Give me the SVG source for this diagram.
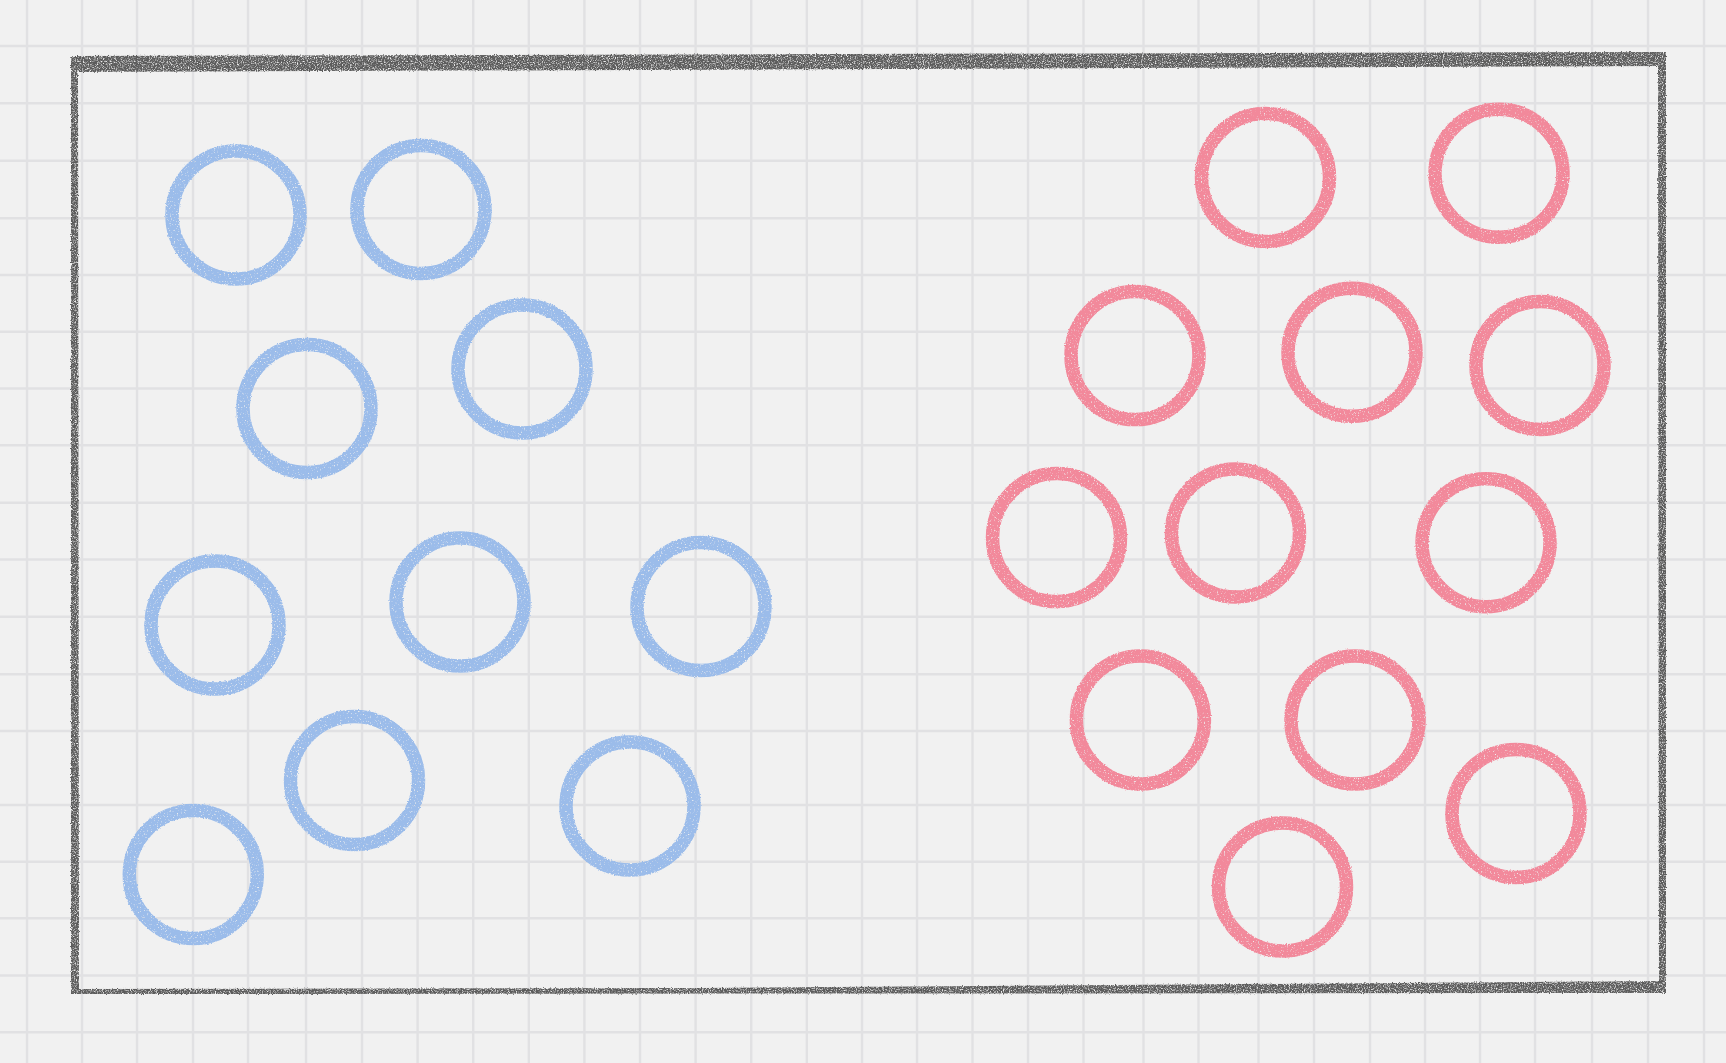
<svg xmlns="http://www.w3.org/2000/svg" width="1726" height="1063" viewBox="0 0 1726 1063">
  <defs>
    <filter id="rough" x="-10%" y="-10%" width="120%" height="120%">
      <feTurbulence type="fractalNoise" baseFrequency="0.85" numOctaves="2" seed="4" result="n"/>
      <feDisplacementMap in="SourceGraphic" in2="n" scale="3" xChannelSelector="R" yChannelSelector="G" result="d"/>
      <feColorMatrix in="n" type="matrix" values="0 0 0 0 0  0 0 0 0 0  0 0 0 0 0  0 0 0 -3 2.4" result="mask"/>
      <feComposite in="d" in2="mask" operator="in"/>
    </filter>
    <filter id="chalk" x="-10%" y="-10%" width="120%" height="120%">
      <feTurbulence type="fractalNoise" baseFrequency="0.7" numOctaves="2" seed="9" result="n"/>
      <feDisplacementMap in="SourceGraphic" in2="n" scale="2.5" xChannelSelector="R" yChannelSelector="G" result="d"/>
      <feColorMatrix in="n" type="matrix" values="0 0 0 0 0  0 0 0 0 0  0 0 0 0 0  0 0 0 -4 3.4" result="mask"/>
      <feComposite in="d" in2="mask" operator="in"/>
    </filter>
    <style>
      .grid line { stroke: #e1e1e3; stroke-width: 2.4; }
      .frame { fill: #5c5c5c; }
      .blue { fill: none; stroke: #9bbcea; stroke-width: 13.5; }
      .pink { fill: none; stroke: #f2899b; stroke-width: 13.5; }
    </style>
  </defs>
  <rect x="0" y="0" width="1726" height="1063" fill="#f1f1f1"/>
  <g class="grid" id="grid">
    <line x1="27" y1="0" x2="27" y2="1063"/>
    <line x1="82" y1="0" x2="82" y2="1063"/>
    <line x1="137" y1="0" x2="137" y2="1063"/>
    <line x1="193" y1="0" x2="193" y2="1063"/>
    <line x1="248" y1="0" x2="248" y2="1063"/>
    <line x1="306" y1="0" x2="306" y2="1063"/>
    <line x1="362" y1="0" x2="362" y2="1063"/>
    <line x1="417.6" y1="0" x2="417.6" y2="1063"/>
    <line x1="473.2" y1="0" x2="473.2" y2="1063"/>
    <line x1="528.8" y1="0" x2="528.8" y2="1063"/>
    <line x1="584.4" y1="0" x2="584.4" y2="1063"/>
    <line x1="640" y1="0" x2="640" y2="1063"/>
    <line x1="695.6" y1="0" x2="695.6" y2="1063"/>
    <line x1="751.2" y1="0" x2="751.2" y2="1063"/>
    <line x1="806.8" y1="0" x2="806.8" y2="1063"/>
    <line x1="862" y1="0" x2="862" y2="1063"/>
    <line x1="917" y1="0" x2="917" y2="1063"/>
    <line x1="972.5" y1="0" x2="972.5" y2="1063"/>
    <line x1="1028" y1="0" x2="1028" y2="1063"/>
    <line x1="1083.5" y1="0" x2="1083.5" y2="1063"/>
    <line x1="1143.5" y1="0" x2="1143.5" y2="1063"/>
    <line x1="1198.5" y1="0" x2="1198.5" y2="1063"/>
    <line x1="1258.5" y1="0" x2="1258.5" y2="1063"/>
    <line x1="1314" y1="0" x2="1314" y2="1063"/>
    <line x1="1370" y1="0" x2="1370" y2="1063"/>
    <line x1="1425" y1="0" x2="1425" y2="1063"/>
    <line x1="1480" y1="0" x2="1480" y2="1063"/>
    <line x1="1535" y1="0" x2="1535" y2="1063"/>
    <line x1="1592" y1="0" x2="1592" y2="1063"/>
    <line x1="1648" y1="0" x2="1648" y2="1063"/>
    <line x1="1704" y1="0" x2="1704" y2="1063"/>
    <line x1="0" y1="46" x2="1726" y2="46"/>
    <line x1="0" y1="103.3" x2="1726" y2="103.3"/>
    <line x1="0" y1="160.7" x2="1726" y2="160.7"/>
    <line x1="0" y1="218.3" x2="1726" y2="218.3"/>
    <line x1="0" y1="275" x2="1726" y2="275"/>
    <line x1="0" y1="331.8" x2="1726" y2="331.8"/>
    <line x1="0" y1="388.5" x2="1726" y2="388.5"/>
    <line x1="0" y1="445.3" x2="1726" y2="445.3"/>
    <line x1="0" y1="502.7" x2="1726" y2="502.7"/>
    <line x1="0" y1="559.5" x2="1726" y2="559.5"/>
    <line x1="0" y1="616.8" x2="1726" y2="616.8"/>
    <line x1="0" y1="674.3" x2="1726" y2="674.3"/>
    <line x1="0" y1="731" x2="1726" y2="731"/>
    <line x1="0" y1="805" x2="1726" y2="805"/>
    <line x1="0" y1="861.7" x2="1726" y2="861.7"/>
    <line x1="0" y1="918.3" x2="1726" y2="918.3"/>
    <line x1="0" y1="975.5" x2="1726" y2="975.5"/>
    <line x1="0" y1="1032.3" x2="1726" y2="1032.3"/>
  </g>
  <g id="frame" filter="url(#rough)">
    <polygon class="frame" points="71,56 1666,52 1666,66 78,72"/>
    <polygon class="frame" points="71,56 78,60 79,993 71,993"/>
    <polygon class="frame" points="1658,56 1666,52 1666,993 1659,993"/>
    <polygon class="frame" points="71,989 700,988 1666,981 1666,993 71,994"/>
  </g>
  <g id="blue-circles" filter="url(#chalk)">
    <g id="blue-1"><circle class="blue" cx="236" cy="215" r="64"/></g>
    <g id="blue-2"><circle class="blue" cx="421" cy="209.5" r="64"/></g>
    <g id="blue-3"><circle class="blue" cx="522" cy="369" r="64"/></g>
    <g id="blue-4"><circle class="blue" cx="307" cy="408.5" r="64"/></g>
    <g id="blue-5"><circle class="blue" cx="215" cy="625" r="64"/></g>
    <g id="blue-6"><circle class="blue" cx="460" cy="602" r="64"/></g>
    <g id="blue-7"><circle class="blue" cx="701" cy="606.5" r="64"/></g>
    <g id="blue-8"><circle class="blue" cx="354.5" cy="780.5" r="64"/></g>
    <g id="blue-9"><circle class="blue" cx="630" cy="806" r="64"/></g>
    <g id="blue-10"><circle class="blue" cx="193.3" cy="874.5" r="64"/></g>
  </g>
  <g id="pink-circles" filter="url(#chalk)">
    <g id="pink-1"><circle class="pink" cx="1265.5" cy="177.5" r="64"/></g>
    <g id="pink-2"><circle class="pink" cx="1499" cy="173.3" r="64"/></g>
    <g id="pink-3"><circle class="pink" cx="1135" cy="355.6" r="64"/></g>
    <g id="pink-4"><circle class="pink" cx="1352" cy="352.3" r="64"/></g>
    <g id="pink-5"><circle class="pink" cx="1540" cy="365.5" r="64"/></g>
    <g id="pink-6"><circle class="pink" cx="1056.5" cy="537.5" r="64"/></g>
    <g id="pink-7"><circle class="pink" cx="1235.5" cy="533" r="64"/></g>
    <g id="pink-8"><circle class="pink" cx="1486" cy="542.7" r="64"/></g>
    <g id="pink-9"><circle class="pink" cx="1140.4" cy="720" r="64"/></g>
    <g id="pink-10"><circle class="pink" cx="1355" cy="720" r="64"/></g>
    <g id="pink-11"><circle class="pink" cx="1516" cy="813.5" r="64"/></g>
    <g id="pink-12"><circle class="pink" cx="1282.5" cy="887" r="64"/></g>
  </g>
</svg>
